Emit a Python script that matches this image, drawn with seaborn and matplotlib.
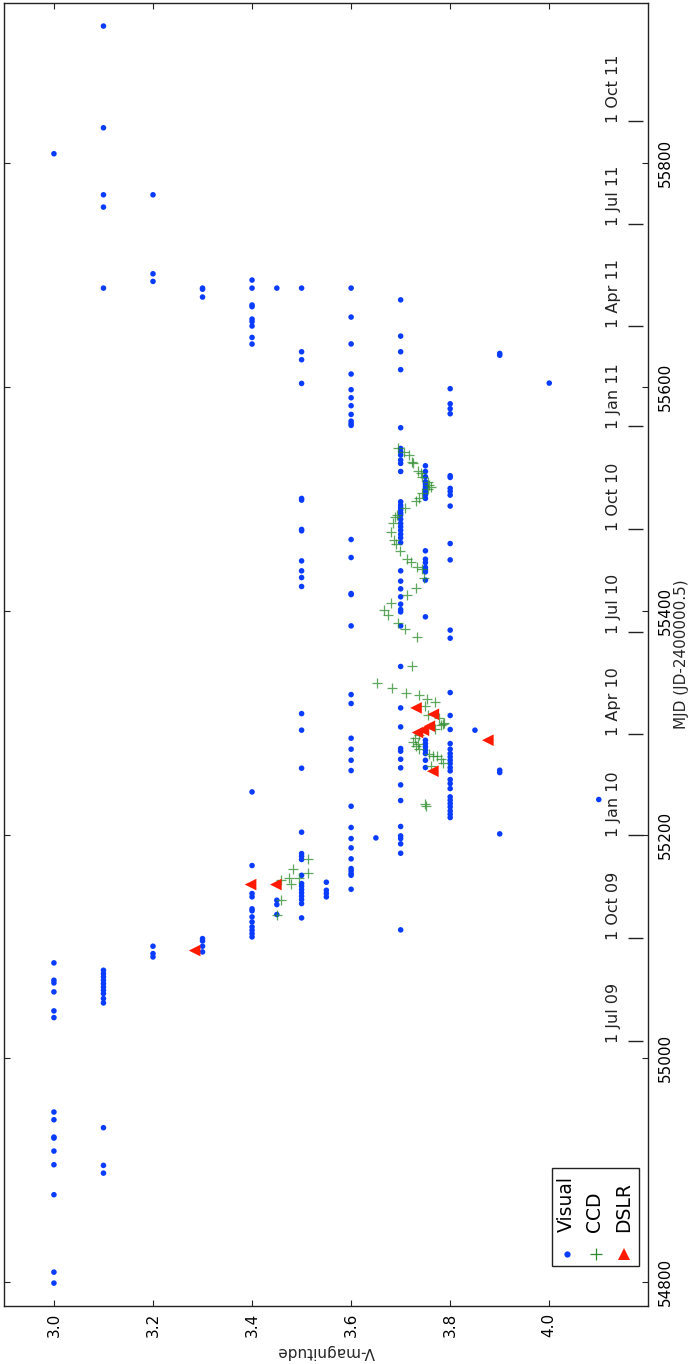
import numpy as np
import pandas as pd
import matplotlib
matplotlib.use("Agg")
import matplotlib.pyplot as plt
import seaborn as sns
from matplotlib.patches import Rectangle
from matplotlib.lines import Line2D

# ---------------- data ----------------
# Visual estimates: MJD lists per quantized V-magnitude
vis_mjd_300 = [55808.6, 55085.4, 55069.9, 55067.5, 55059.5, 55042.5, 55036.5, 54952.1,
               54945.2, 54929.7, 54928.8, 54917.2, 54905.0, 54878.2, 54809.0, 54799.2]
vis_mjd_310 = [55922.7, 55831.8, 55771.9, 55760.9, 55688.5, 55078.8, 55075.8, 55072.9,
               55069.9, 55066.9, 55063.9, 55061.0, 55058.0, 55053.5, 55049.6, 54938.1,
               54904.4, 54897.5]
vis_mjd_320 = [55771.9, 55701.3, 55694.5, 55100.3, 55093.7, 55090.7]
vis_mjd_330 = [55688.5, 55687.5, 55680.5, 55107.1, 55105.0, 55100.3, 55095.2]
vis_mjd_340 = [55695.7, 55688.5, 55673.4, 55671.9, 55660.8, 55658.5, 55654.6, 55644.4,
               55638.5, 55238.2, 55172.4, 55147.4, 55144.4, 55133.7, 55131.9, 55126.5,
               55122.0, 55117.6, 55114.6, 55111.6, 55108.6]
vis_mjd_345 = [55688.5, 55141.4, 55137.5, 55128.6]
vis_mjd_350 = [55688.5, 55631.6, 55624.5, 55603.3, 55500.5, 55499.0, 55472.8, 55471.6,
               55444.7, 55435.8, 55429.8, 55421.8, 55308.2, 55293.4, 55259.4, 55202.2,
               55183.1, 55180.7, 55177.8, 55163.7, 55156.3, 55153.9, 55150.9, 55148.0,
               55145.0, 55142.0, 55138.4, 55125.6]
vis_mjd_355 = [55157.5, 55150.3, 55147.4, 55144.4]
vis_mjd_360 = [55688.5, 55662.6, 55638.6, 55611.7, 55597.7, 55590.5, 55583.4, 55575.6,
               55569.6, 55567.6, 55565.8, 55463.8, 55447.7, 55415.5, 55414.6, 55386.6,
               55325.2, 55317.2, 55286.2, 55276.4, 55266.5, 55257.3, 55225.4, 55206.4,
               55196.5, 55188.2, 55178.4, 55169.7, 55167.6, 55165.2, 55163.7, 55151.2]
vis_mjd_365 = [55197.1]
vis_mjd_370 = [55678.0, 55645.6, 55631.6, 55615.6, 55563.7, 55545.2, 55542.2, 55539.3,
               55534.8, 55531.8, 55524.6, 55497.5, 55494.5, 55492.2, 55490.1, 55487.6,
               55485.6, 55482.0, 55478.2, 55475.2, 55472.0, 55468.5, 55465.3, 55461.0,
               55435.8, 55426.6, 55419.7, 55412.6, 55406.0, 55401.2, 55399.1, 55386.6,
               55350.3, 55313.3, 55296.3, 55277.0, 55274.6, 55267.4, 55259.7, 55244.5,
               55230.5, 55207.3, 55198.9, 55196.5, 55191.8, 55183.4, 55114.9]
vis_mjd_375 = [55529.7, 55524.6, 55519.9, 55515.4, 55513.3, 55510.9, 55508.6, 55506.2,
               55503.5, 55500.5, 55453.7, 55446.2, 55443.2, 55438.8, 55437.0, 55434.9,
               55427.5, 55394.7, 55284.4, 55281.4, 55278.5, 55275.5, 55272.5, 55266.5,
               55260.0]
vis_mjd_380 = [55598.6, 55585.1, 55580.7, 55576.2, 55520.8, 55519.3, 55509.5, 55506.8,
               55503.5, 55493.7, 55460.2, 55445.6, 55382.8, 55375.6, 55327.0, 55306.5,
               55294.0, 55281.4, 55276.4, 55272.5, 55269.5, 55266.5, 55263.6, 55260.0,
               55257.0, 55249.2, 55245.7, 55241.2, 55233.8, 55230.8, 55227.8, 55224.8,
               55221.2, 55218.2, 55215.3]
vis_mjd_385 = [55293.4]
vis_mjd_390 = [55630.1, 55628.5, 55257.6, 55255.5, 55200.7]
vis_mjd_400 = [55603.6]
vis_mjd_410 = [55231.4]

# CCD measurements
ccd_mjd = [55545.2, 55542.2, 55539.3, 55533.3, 55532.4, 55525.2, 55522.8, 55519.9, 55515.4,
           55512.4, 55510.9, 55508.6, 55505.0, 55500.5, 55498.1, 55492.4, 55485.6, 55483.5,
           55478.2, 55470.7, 55463.2, 55459.6, 55453.7, 55446.8, 55443.8, 55438.8, 55437.0,
           55429.0, 55420.9, 55413.8, 55407.2, 55400.6, 55395.9, 55389.6, 55384.0, 55376.8,
           55350.5, 55335.7, 55331.2, 55327.0, 55324.6, 55321.7, 55318.7, 55314.8, 55306.7,
           55304.7, 55300.2, 55299.0, 55297.8, 55294.8, 55288.9, 55286.0, 55282.9, 55281.0,
           55279.0, 55277.0, 55272.5, 55270.4, 55270.0, 55267.4, 55264.0, 55261.2, 55227.8,
           55225.4, 55178.4, 55169.7, 55166.1, 55161.7, 55161.7, 55159.3, 55156.3, 55141.4,
           55128.6]
ccd_mag = [3.694, 3.706, 3.716, 3.723, 3.725, 3.736, 3.741, 3.744, 3.755,
           3.758, 3.761, 3.755, 3.744, 3.737, 3.730, 3.709, 3.692, 3.689,
           3.685, 3.681, 3.687, 3.690, 3.699, 3.713, 3.720, 3.734, 3.744,
           3.748, 3.730, 3.713, 3.680, 3.666, 3.675, 3.694, 3.709, 3.732,
           3.722, 3.652, 3.683, 3.710, 3.738, 3.753, 3.769, 3.750, 3.755,
           3.778, 3.788, 3.785, 3.782, 3.770, 3.738, 3.728, 3.724, 3.735,
           3.731, 3.738, 3.758, 3.773, 3.765, 3.782, 3.785, 3.761, 3.749,
           3.751, 3.513, 3.483, 3.513, 3.474, 3.495, 3.458, 3.479, 3.458,
           3.451]

# DSLR measurements
dslr_mjd = [55313.3, 55307.6, 55296.9, 55293.3, 55291.3, 55284.4, 55256.7, 55155.4, 55155.4, 55096.4]
dslr_mag = [3.731, 3.766, 3.758, 3.746, 3.734, 3.876, 3.765, 3.397, 3.448, 3.284]

# axis ticks / date annotations
mag_ticks = [3.0, 3.2, 3.4, 3.6, 3.8, 4.0]
mag_tick_labels = ["3.0", "3.2", "3.4", "3.6", "3.8", "4.0"]
mjd_ticks = [54800, 55000, 55200, 55400, 55600, 55800]
date_labels = ["1 Jul 09", "1 Oct 09", "1 Jan 10", "1 Apr 10", "1 Jul 10",
               "1 Oct 10", "1 Jan 11", "1 Apr 11", "1 Jul 11", "1 Oct 11"]
date_mjd = [55016, 55108, 55200, 55290, 55381, 55473, 55565, 55655, 55746, 55838]
legend_labels = ["Visual", "CCD", "DSLR"]

# ---------------- build tables ----------------
vis_groups = [(3.00, vis_mjd_300), (3.10, vis_mjd_310), (3.20, vis_mjd_320), (3.30, vis_mjd_330),
              (3.40, vis_mjd_340), (3.45, vis_mjd_345), (3.50, vis_mjd_350), (3.55, vis_mjd_355),
              (3.60, vis_mjd_360), (3.65, vis_mjd_365), (3.70, vis_mjd_370), (3.75, vis_mjd_375),
              (3.80, vis_mjd_380), (3.85, vis_mjd_385), (3.90, vis_mjd_390), (4.00, vis_mjd_400),
              (4.10, vis_mjd_410)]
vis_df = pd.DataFrame({
    "mjd": [m for _, lst in vis_groups for m in lst],
    "mag": [g for g, lst in vis_groups for _ in lst],
})
ccd_df = pd.DataFrame({"mjd": ccd_mjd, "mag": ccd_mag})
dslr_df = pd.DataFrame({"mjd": dslr_mjd, "mag": dslr_mag})

# ---------------- plot ----------------
sns.set_style("white")
plt.rcParams["font.family"] = ["DejaVu Sans"]

BLUE = "#0a3cff"
GREEN = "#2a8a2a"
RED = "#ff1a00"

fig = plt.figure(figsize=(6.9, 13.64), dpi=100)
ax = fig.add_axes([0.00638, 0.04274, 0.9332, 0.9548])

sns.scatterplot(data=vis_df, x="mag", y="mjd", color=BLUE, s=16, edgecolor="none",
                marker="o", ax=ax, legend=False, zorder=3)
sns.scatterplot(data=ccd_df, x="mag", y="mjd", color=GREEN, s=60, marker="+",
                linewidth=0.9, alpha=0.75, ax=ax, legend=False, zorder=4)
sns.scatterplot(data=dslr_df, x="mag", y="mjd", color=RED, s=70, marker="<",
                edgecolor="none", ax=ax, legend=False, zorder=5)

ax.set_xlim(2.9, 4.2)
ax.set_ylim(54779, 55943)
ax.set_xticks(mag_ticks)
ax.set_xticklabels(mag_tick_labels)
ax.set_yticks(mjd_ticks)
ax.set_yticklabels([str(t) for t in mjd_ticks])

for sp in ax.spines.values():
    sp.set_color("#222222")
    sp.set_linewidth(1.0)

ax.tick_params(axis="x", direction="in", top=True, bottom=True, length=4, width=0.8,
               labelsize=11, labelrotation=90, pad=5, colors="#222222")
ax.tick_params(axis="y", direction="in", left=True, right=True, labelleft=False,
               labelright=True, length=4, width=0.8, labelsize=11, labelrotation=90,
               pad=7, colors="#222222")
for lbl in ax.get_yticklabels():
    lbl.set_va("center")
    lbl.set_color("black")
for lbl in ax.get_xticklabels():
    lbl.set_color("black")

ax.set_xlabel("V-magnitude", rotation=180, fontsize=11, labelpad=5)
ax.yaxis.set_label_position("right")
ax.set_ylabel("MJD (JD-2400000.5)", rotation=90, fontsize=11, labelpad=1)

# calendar date markers inside the plot
ytr = ax.get_yaxis_transform()
ax.hlines(date_mjd, 0.9685, 0.9918, transform=ytr, color="#222222", linewidth=1.0, zorder=2)
for d, lab in zip(date_mjd, date_labels):
    ax.text(0.9457, d - 2, lab, transform=ytr, rotation=90, ha="center", va="bottom",
            fontsize=11.5, color="#222222")

# rotated legend, drawn by hand
ax.add_patch(Rectangle((0.850, 0.0305), 0.136, 0.0755, transform=ax.transAxes,
                       facecolor="white", edgecolor="#222222", linewidth=1.0, zorder=6))
leg_x_marker = [0.8742, 0.9183, 0.9627]
leg_x_text = [0.8733, 0.9172, 0.9612]
leg_styles = [dict(marker="o", color=BLUE, markersize=4.5, markeredgewidth=0),
              dict(marker="+", color=GREEN, markersize=8, markeredgewidth=0.9),
              dict(marker="^", color=RED, markersize=9, markeredgewidth=0)]
for xm, xt, lab, st in zip(leg_x_marker, leg_x_text, legend_labels, leg_styles):
    ax.add_line(Line2D([xm], [0.0395], transform=ax.transAxes, linestyle="none",
                       zorder=7, **st))
    ax.text(xt, 0.0568, lab, transform=ax.transAxes, rotation=90, ha="center",
            va="bottom", fontsize=13.5, color="black", zorder=7)

fig.savefig("out.png", dpi=100)
